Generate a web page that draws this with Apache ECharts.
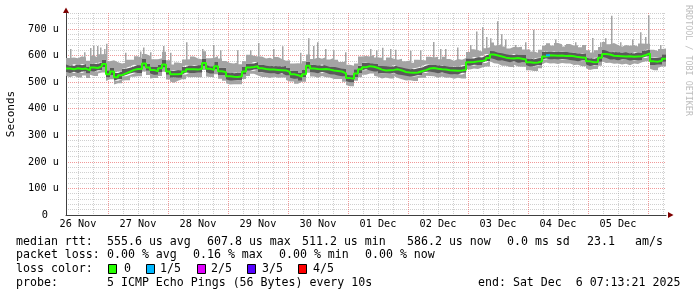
<!DOCTYPE html>
<html><head><meta charset="utf-8">
<script src="https://cdn.jsdelivr.net/npm/echarts@6/dist/echarts.min.js"></script>
<style>html,body{margin:0;padding:0;background:#fff}#c{width:697px;height:297px}</style>
</head><body><div id="c"></div>
<script>
// ---------- DATA ----------
const endTime = Date.UTC(2025, 11, 6, 7, 13, 21);
const startTime = endTime - 10 * 86400000;
const stepMs = 96 * 60000; // one sample per 96 minutes

const dayLabels = ['26 Nov','27 Nov','28 Nov','29 Nov','30 Nov','01 Dec','02 Dec','03 Dec','04 Dec','05 Dec'];
const yTickLabels = ['0','100 u','200 u','300 u','400 u','500 u','600 u','700 u'];

// median rtt (us)
const median = [
551,548,552,549,551,544,555,553,560,568,
530,540,518,526,533,539,546,549,549,570,
555,546,541,552,566,540,530,530,531,540,
548,548,547,550,572,550,546,560,541,537,
522,520,519,522,540,555,557,560,552,549,
547,547,546,545,544,538,530,526,520,530,
562,551,549,548,549,547,544,542,540,533,
515,513,532,548,556,560,558,553,547,544,
545,546,548,544,538,536,535,536,541,545,
551,553,550,548,547,545,544,543,544,546,
575,576,578,579,583,591,604,600,596,592,
590,589,591,588,585,575,573,574,578,596,
601,600,599,600,598,599,597,594,593,592,
578,575,576,592,606,604,599,598,597,596,
597,595,596,597,602,608,578,577,580,588];
// smoke: lowest ping
const minRtt = [
524,518,524,517,525,515,528,523,532,536,
504,511,491,496,505,507,520,520,522,540,
527,514,515,523,539,510,502,498,505,511,
521,518,519,518,546,521,519,530,513,505,
496,491,492,492,512,523,531,531,525,519,
519,515,520,516,517,508,502,494,494,501,
535,521,521,516,523,518,517,512,512,501,
489,484,505,518,528,528,532,524,520,514,
517,514,522,515,511,506,507,504,515,516,
524,523,522,516,521,516,517,513,516,514,
549,547,551,549,555,559,578,571,569,562,
562,557,565,559,558,545,545,542,552,567,
574,570,571,568,572,570,570,564,565,560,
552,546,549,562,578,572,573,569,570,566,
569,563,570,568,575,578,550,545,554,559];
// smoke: 2nd ping
const lowQ = [
539,534,539,534,540,532,541,540,545,557,
518,526,505,511,522,527,532,536,534,559,
543,532,528,537,555,528,516,517,516,529,
536,534,534,535,561,538,532,547,526,526,
510,506,506,507,529,543,543,547,537,538,
535,533,533,530,533,526,516,513,505,519,
550,537,536,533,538,535,530,529,525,522,
503,499,519,533,545,548,544,540,532,533,
533,532,535,529,527,524,521,523,526,534,
539,539,537,533,536,533,530,530,529,535,
563,562,565,564,572,579,590,587,581,581,
578,575,578,573,574,563,559,561,563,585,
589,586,586,585,587,587,583,581,578,581,
566,561,563,577,595,592,585,585,582,585,
585,581,583,582,591,596,564,564,565,577];
// smoke: 4th ping
const highQ = [
566,561,568,563,568,559,568,569,574,585,
545,553,534,540,550,554,559,565,563,587,
570,559,557,566,583,555,543,546,545,557,
563,561,563,564,589,565,559,576,555,554,
537,533,535,536,557,570,570,576,566,566,
562,560,562,559,561,553,543,542,534,547,
577,564,565,562,566,562,557,558,554,550,
530,526,548,562,573,575,571,569,561,561,
560,559,564,558,555,551,548,552,555,562,
566,566,566,562,564,560,557,559,558,563,
590,589,594,593,600,606,617,616,610,609,
605,602,607,602,602,590,586,590,592,613,
616,613,615,614,615,614,610,610,607,609,
593,588,592,606,623,619,612,614,611,613,
612,608,612,611,619,623,591,593,594,605];
// smoke: highest ping (typical, spikes listed separately)
const maxRtt = [
591,593,590,597,593,580,599,593,605,606,
578,582,575,570,573,584,584,597,591,606,
599,586,586,590,614,582,566,574,571,585,
586,596,589,586,616,590,591,598,589,579,
572,570,575,567,578,603,599,596,596,589,
592,585,594,587,580,582,570,571,570,578,
604,587,593,588,594,585,592,584,576,577,
565,562,570,596,598,596,602,593,592,582,
593,588,584,588,578,581,573,584,583,581,
595,593,595,586,595,587,580,587,584,591,
613,624,620,615,627,631,649,638,644,634,
626,633,631,633,623,623,615,610,622,636,
646,638,647,642,634,643,637,639,631,640,
620,611,620,632,651,642,647,640,633,640,
637,640,634,645,644,644,622,617,625,626];
// short max-rtt spikes: hours after start, value (us)
const spikeHour = [1.6,7.2,9.6,10.8,12.4,13.6,15.2,16.0,23.6,29.6,30.8,33.6,38.8,41.6,48.0,54.4,58.8,61.6,68.4,73.6,76.8,82.8,86.4,93.6,96.8,98.8,100.4,103.6,106.8,111.6,121.6,124.0,126.4,129.6,131.6,137.6,141.6,146.8,149.6,151.6,156.4,161.6,164.0,166.4,168.0,169.6,172.4,174.0,175.6,179.6,183.6,186.8,191.6,195.6,199.6,203.6,210.4,213.6,215.6,218.0,221.6,226.4,229.6,231.6,232.8,237.6];
const spikeValue = [625,612,628,636,636,630,625,644,610,615,630,612,636,610,650,625,640,620,620,620,647,625,635,610,665,636,650,625,620,612,625,620,629,625,622,618,620,651,625,625,630,640,690,706,670,665,729,680,660,640,650,697,640,660,640,650,666,650,665,750,650,660,688,670,752,640];
// samples with packet loss (index into arrays) and loss level (1..4 of 5)
const lossIndex = [120];
const lossLevel = [1];

const lossLabels = ['0','1/5','2/5','3/5','4/5'];
const lossColors = ['#26ff00','#00b8ff','#e000ff','#5500ff','#ff0000'];

const statRtt = ['median rtt:','555.6 us avg','607.8 us max','511.2 us min','586.2 us now','0.0 ms sd','23.1','am/s'];
const statLoss = ['packet loss:','0.00 % avg','0.16 % max','0.00 % min','0.00 % now'];
const probeText = ['probe:','5 ICMP Echo Pings (56 Bytes) every 10s','end: Sat Dec  6 07:13:21 2025'];

// ---------- LAYOUT ----------
const G = {left: 66, right: 666, top: 13, bottom: 215};
const rttX = [16,107,207,302,407,507,587,635];
const lossX = [16,107,193,279,365];
const probeX = [16,107,478];
const boxX = [108,146,197,247,298];
const boxLabelX = [124,160,211,262,313];
const lineY = [241.5,255,269,282.7];
const LF = '11.6px "DejaVu Sans Mono"';

const N = median.length;
const times = median.map((_, i) => startTime + i * stepMs);
// data rows are [value, time] so that stacking happens on the value dimension
function rows(arr){ const d = arr.map((v,i)=>[v, times[i]]); d.push([arr[N-1], endTime]); return d; }
const band1 = lowQ.map((v,i)=>v-minRtt[i]);
const band2 = highQ.map((v,i)=>v-lowQ[i]);
const band3 = maxRtt.map((v,i)=>v-highQ[i]);
const spikeRows = spikeHour.map((h, k) => {
  const t = startTime + h * 3600000;
  const i = Math.min(N-1, Math.floor((t - startTime) / stepMs));
  return [t, highQ[i], spikeValue[k]];
});

const H6 = 6*3600000;
const gridTimes = [];
for (let t = Math.ceil(startTime / H6) * H6; t <= endTime; t += H6) gridTimes.push(t);
const noon0 = Date.UTC(2025,10,26,12);
const labelTimes = dayLabels.map((_, k) => noon0 + k*86400000);

const MAJ = 'rgba(235,110,110,0.7)';
const MIN = 'rgba(150,150,150,0.45)';
const xCols = gridTimes.map(t => (t % 86400000 === 0) ? MAJ : MIN);

const LIGHT = '#a4a4a4', DARK = '#5a5a5a';
function smoke(name, arr, color){
  return {type:'line', name:name, stack:'smoke', step:'end', data: rows(arr), encode:{x:1, y:0},
    symbol:'none', lineStyle:{width:0, opacity:0}, silent:true, z:2,
    areaStyle: color ? {color:color, opacity:1} : undefined};
}
const series = [
  smoke('min', minRtt, null),
  smoke('b1', band1, LIGHT),
  smoke('b2', band2, DARK),
  smoke('b3', band3, LIGHT),
  {type:'custom', name:'spikes', data: spikeRows, encode:{x:0, y:[1,2]}, silent:true, z:2,
   renderItem:(params, api) => {
     const p1 = api.coord([api.value(0), api.value(1)]);
     const p2 = api.coord([api.value(0), api.value(2)]);
     return {type:'rect', shape:{x:Math.round(p1[0]), y:p2[1], width:1.5, height:p1[1]-p2[1]},
       style:{fill:LIGHT}};
   }},
  {type:'line', name:'median', step:'end', data: rows(median), encode:{x:1, y:0}, symbol:'none',
   lineStyle:{width:2, color:lossColors[0]}, silent:true, z:3}
];
lossIndex.forEach((i, k) => {
  series.push({type:'line', step:'end', symbol:'none', silent:true, z:4, encode:{x:1, y:0},
    data:[[median[i], times[i]], [median[i], times[i]+stepMs]],
    lineStyle:{width:2, color:lossColors[lossLevel[k]]}});
});

const graphic = [];
function txt(x, y, s){ graphic.push({type:'text', x:x, y:y, silent:true,
  style:{text:s, fill:'#000', font:LF, align:'left', verticalAlign:'middle'}}); }
statRtt.forEach((s,i)=>txt(rttX[i], lineY[0], s));
statLoss.forEach((s,i)=>txt(lossX[i], lineY[1], s));
txt(16, lineY[2], 'loss color:');
lossLabels.forEach((s,i)=>{
  graphic.push({type:'rect', silent:true, shape:{x:boxX[i]+0.5, y:264.5, width:8, height:9},
    style:{fill:lossColors[i], stroke:'#000', lineWidth:1}});
  txt(boxLabelX[i], lineY[2], s);
});
probeText.forEach((s,i)=>txt(probeX[i], lineY[3], s));
graphic.push({type:'text', x:11, y:114, rotation:Math.PI/2, silent:true,
  style:{text:'Seconds', fill:'#000', font:'11px "DejaVu Sans Mono"', align:'center', verticalAlign:'middle'}});
graphic.push({type:'text', x:688, y:5, rotation:-Math.PI/2, silent:true,
  style:{text:'RRDTOOL / TOBI OETIKER', fill:'#bdbdbd', font:'8.4px "DejaVu Sans Mono"', align:'left', verticalAlign:'middle'}});
graphic.push({type:'polygon', silent:true, shape:{points:[[G.right+2,G.bottom-3],[G.right+7.5,G.bottom],[G.right+2,G.bottom+3]]}, style:{fill:'#7f0000'}});
graphic.push({type:'polygon', silent:true, shape:{points:[[G.left-3,G.top],[G.left,G.top-5.5],[G.left+3,G.top]]}, style:{fill:'#7f0000'}});

const chart = echarts.init(document.getElementById('c'), null, {width:697, height:297});
chart.setOption({
  animation:false,
  backgroundColor:'#fff',
  grid:{left:G.left, top:G.top, width:G.right-G.left, height:G.bottom-G.top, containLabel:false},
  xAxis:{type:'value', min:startTime, max:endTime,
    axisLine:{show:true, onZero:false, lineStyle:{color:'#404040', width:1}},
    axisTick:{show:false, customValues:gridTimes},
    axisLabel:{show:true, customValues:labelTimes, margin:4, color:'#000',
      fontFamily:'DejaVu Sans Mono', fontSize:10.2,
      formatter:(v)=>dayLabels[Math.round((v-noon0)/86400000)] || ''},
    splitLine:{show:true, lineStyle:{color:xCols, width:1, type:[1,1]}}
  },
  yAxis:{type:'value', min:0, max:760, interval:20,
    axisLine:{show:true, lineStyle:{color:'#404040', width:1}},
    axisTick:{show:false},
    axisLabel:{margin:7, color:'#000', fontFamily:'DejaVu Sans Mono', fontSize:10.3,
      formatter:(v)=> (v % 100 === 0) ? (v === 0 ? '{z|0}' : (yTickLabels[v/100] || '')) : '',
      rich:{z:{padding:[0,11,0,0], fontFamily:'DejaVu Sans Mono', fontSize:10.3, color:'#000'}}},
    splitLine:{show:true, lineStyle:{color:[MAJ,MIN,MIN,MIN,MIN], width:1, type:[1,1]}}
  },
  series: series,
  graphic: graphic
});
</script></body></html>
